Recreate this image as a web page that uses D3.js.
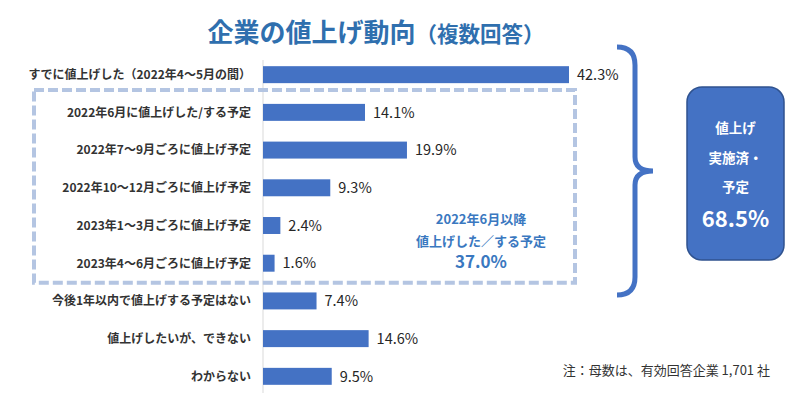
<!DOCTYPE html>
<html><head><meta charset="utf-8">
<script src="https://cdn.jsdelivr.net/npm/d3@7"></script>
<style>body{margin:0;background:#fff}svg{display:block}</style>
</head><body><svg id="c" width="794" height="393"></svg>
<script>
const categories = [
  "すでに値上げした（2022年4～5月の間）",
  "2022年6月に値上げした/する予定",
  "2022年7～9月ごろに値上げ予定",
  "2022年10～12月ごろに値上げ予定",
  "2023年1～3月ごろに値上げ予定",
  "2023年4～6月ごろに値上げ予定",
  "今後1年以内で値上げする予定はない",
  "値上げしたいが、できない",
  "わからない"
];
const values = [42.3, 14.1, 19.9, 9.3, 2.4, 1.6, 7.4, 14.6, 9.5];
const titleMain = "企業の値上げ動向";
const titleSub = "（複数回答）";
const groupLabel = ["2022年6月以降", "値上げした／する予定", "37.0%"];
const totalLabel = ["値上げ", "実施済・", "予定", "68.5%"];
const note = "注：母数は、有効回答企業 1,701 社";

const svg = d3.select("#c");
const font = "'Noto Sans CJK JP', 'Noto Sans', sans-serif";
const blue = "#4472c4";
const x0 = 263;
const x = d3.scaleLinear().domain([0, 42.3]).range([x0, 569]);
const y = d3.scaleBand().domain(categories).range([56, 395]).paddingInner(0.55).paddingOuter(0.27);

// title
const t = svg.append("text").attr("x", 376).attr("y", 42).attr("text-anchor", "middle")
  .attr("font-family", font).attr("fill", "#2f6fae").attr("font-weight", "bold");
t.append("tspan").attr("font-size", 26).text(titleMain);
t.append("tspan").attr("font-size", 21.5).text(titleSub);

// axis line
svg.append("line").attr("x1", x0).attr("x2", x0).attr("y1", 60).attr("y2", 393)
  .attr("stroke", "#d9d9d9").attr("stroke-width", 1);

// dashed box
const rowsIn = categories.slice(1, 6);
const boxTop = y(rowsIn[0]) - 14;
const boxBot = y(rowsIn[4]) + y.bandwidth() + 11;
svg.append("rect").attr("x", 34).attr("y", boxTop)
  .attr("width", 541).attr("height", boxBot - boxTop)
  .attr("fill", "none").attr("stroke", "#b4c5e2").attr("stroke-width", 4)
  .attr("stroke-dasharray", "10,4");

// bars
svg.selectAll("rect.bar").data(values).join("rect").attr("class", "bar")
  .attr("x", x0).attr("y", (d, i) => y(categories[i]))
  .attr("width", d => x(d) - x0).attr("height", y.bandwidth()).attr("fill", blue);

// value labels
svg.selectAll("text.val").data(values).join("text").attr("class", "val")
  .attr("x", d => x(d) + 8).attr("y", (d, i) => y(categories[i]) + y.bandwidth() / 2)
  .attr("dy", "0.36em").attr("font-family", font).attr("font-size", 14.5).attr("fill", "#262626")
  .text(d => d.toFixed(1) + "%");

// category labels
svg.selectAll("text.cat").data(categories).join("text").attr("class", "cat")
  .attr("x", 251).attr("y", d => y(d) + y.bandwidth() / 2).attr("dy", "0.36em")
  .attr("text-anchor", "end").attr("font-family", font).attr("font-size", 12)
  .attr("font-weight", "bold").attr("fill", "#333").text(d => d);

// group annotation
svg.selectAll("text.grp").data(groupLabel).join("text").attr("class", "grp")
  .attr("x", 481).attr("y", (d, i) => [224, 246, 268][i]).attr("text-anchor", "middle")
  .attr("font-family", font).attr("font-weight", "bold").attr("fill", "#3a78c0")
  .attr("font-size", (d, i) => i === 2 ? 17 : 13).text(d => d);

// brace
const yt = 47, yb = 295, ym = (yt + yb) / 2, bx = 635;
const brace = `M617,${yt} Q${bx},${yt} ${bx},${yt + 18} L${bx},${ym - 14} Q${bx},${ym} 653,${ym} Q${bx},${ym} ${bx},${ym + 14} L${bx},${yb - 18} Q${bx},${yb} 617,${yb}`;
svg.append("path").attr("d", brace).attr("fill", "none").attr("stroke", blue).attr("stroke-width", 5);

// total box
svg.append("rect").attr("x", 687).attr("y", 87).attr("width", 97).attr("height", 173).attr("rx", 15)
  .attr("fill", blue).attr("stroke", "#2f528f").attr("stroke-width", 1.5);
svg.selectAll("text.tot").data(totalLabel).join("text").attr("class", "tot")
  .attr("x", 735.5).attr("y", (d, i) => [133, 163, 192, 227][i]).attr("text-anchor", "middle")
  .attr("font-family", font).attr("font-weight", "bold").attr("fill", "#fff")
  .attr("font-size", (d, i) => i === 3 ? 22 : 13.5).text(d => d);

// note
svg.append("text").attr("x", 770).attr("y", 375).attr("text-anchor", "end")
  .attr("font-family", font).attr("font-size", 13).attr("fill", "#333").text(note);
</script></body></html>
